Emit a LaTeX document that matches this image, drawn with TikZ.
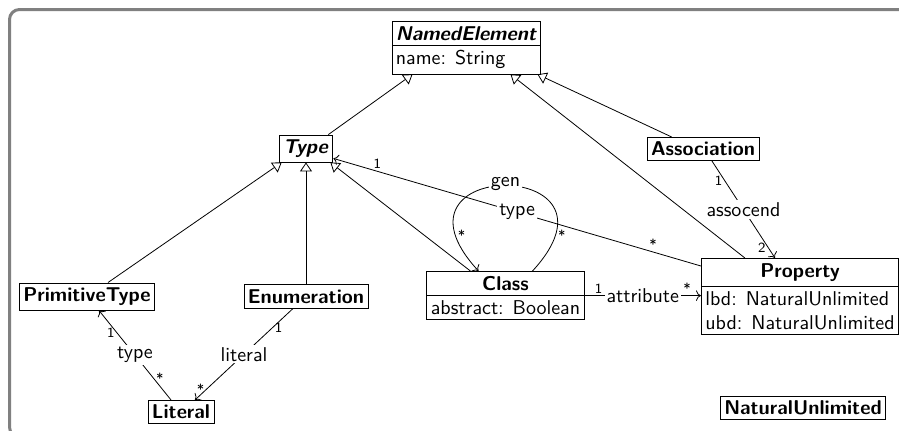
\documentclass[tikz,border=0pt]{standalone}
\usepackage{tikz}
\usetikzlibrary{arrows.meta,shapes.multipart}

\begin{document}
\begin{tikzpicture}[x=0.5pt, y=-0.5pt,
    every node/.style={font=\sffamily},
    cls/.style={draw, rectangle, fill=white, font=\sffamily\bfseries, inner xsep=2pt, inner ysep=2.3pt},
    abscls/.style={cls, font=\sffamily\bfseries\slshape},
    attrcls/.style={cls, rectangle split, rectangle split parts=2, align=left, rectangle split part align={center,left}},
    inherit/.style={draw, -{Triangle[open, length=4.5pt, width=6pt]}},
    assoc/.style={draw, ->},
    role/.style={fill=white, inner sep=1pt},
    mult/.style={font=\sffamily\scriptsize, inner sep=1pt},
    frame/.style={draw=black!50, line width=1.5pt, rounded corners=5pt}]
    \useasboundingbox (0,0) rectangle (899,430);
    \clip (0,0) rectangle (899,430);

    % Frame round the model, open to the right
    \draw[frame] (1000,9.5) -- (9.5,9.5) -- (9.5,437) -- (1000,437);

    % Classes
    \node[attrcls, anchor=north] (ne) at (466,21) {\slshape NamedElement \nodepart{two} \mdseries name: String};
    \node[abscls] (ty) at (305.5,148.5) {Type};
    \node[cls] (pt) at (87,296.5) {PrimitiveType};
    \node[cls] (en) at (306,296.5) {Enumeration};
    \node[cls] (lit) at (181,412) {Literal};
    \node[attrcls, anchor=north] (cls) at (505.5,271) {Class \nodepart{two} \mdseries abstract: Boolean};
    \node[attrcls, anchor=north] (prop) at (800,258) {Property \nodepart{two} \mdseries lbd: NaturalUnlimited\\ \mdseries ubd: NaturalUnlimited};
    \node[cls] (as) at (703,149) {Association};
    \node[cls] (nu) at (803,408) {NaturalUnlimited};

    % Generalizations
    \draw[inherit] ([shift={(-4,0)}]ty.north east) -- ([shift={(21,0)}]ne.south west);
    \draw[inherit] ([shift={(25,0)}]as.north west) -- ([shift={(-3,0)}]ne.south east);
    \draw[inherit] ([shift={(44,0)}]prop.north west) -- ([shift={(-30,0)}]ne.south east);
    \draw[inherit] ([shift={(21,0)}]pt.north) -- ([shift={(3,0)}]ty.south west);
    \draw[inherit] (en.north) -- (en.north |- ty.south);
    \draw[inherit] ([shift={(44,0)}]cls.north west) -- ([shift={(-2,0)}]ty.south east);

    % Associations
    \draw[assoc] ([shift={(0,8)}]prop.north west) -- ([shift={(1,-4)}]ty.south east)
        node[role, midway] {type}
        node[mult, pos=0.13, above] {*}
        node[mult, pos=0.88, above] {1};
    \draw[assoc] ([shift={(27,0)}]cls.north) .. controls +(105,-114) and +(-105,-114) .. ([shift={(-27,0)}]cls.north)
        node[role, pos=0.5, yshift=1pt] {gen}
        node[mult, pos=0.12, right] {*}
        node[mult, pos=0.88, right] {*};
    \draw[assoc] (cls.east) -- (cls.east -| prop.west)
        node[role, midway] {attribute}
        node[mult, pos=0.12, above] {1}
        node[mult, pos=0.88, above] {*};
    \draw[assoc] ([shift={(9,0)}]as.south) -- ([shift={(-25,0)}]prop.north)
        node[role, midway] {assocend}
        node[mult, pos=0.2, left] {1}
        node[mult, pos=0.89, left] {2};
    \draw[assoc] ([shift={(-10,0)}]lit.north) -- ([shift={(12,0)}]pt.south)
        node[role, midway] {type}
        node[mult, pos=0.24, right] {*}
        node[mult, pos=0.75, left] {1};
    \draw[assoc] ([shift={(-13,0)}]en.south) -- ([shift={(14,0)}]lit.north)
        node[role, midway] {literal}
        node[mult, pos=0.21, right] {1}
        node[mult, pos=0.88, left] {*};
\end{tikzpicture}
\end{document}
